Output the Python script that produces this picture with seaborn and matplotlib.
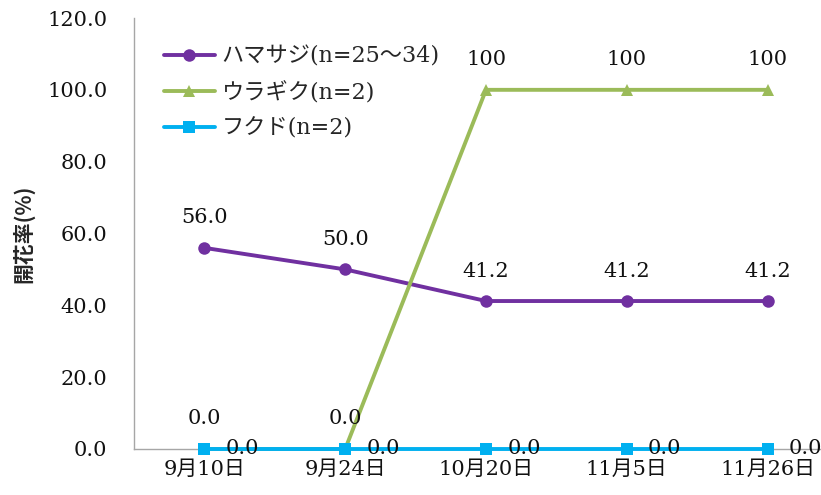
import matplotlib
matplotlib.use("Agg")
import matplotlib.pyplot as plt
import seaborn as sns
import pandas as pd

dates = ["9月10日", "9月24日", "10月20日", "11月5日", "11月26日"]
series_names = ["ハマサジ(n=25～34)", "ウラギク(n=2)", "フクド(n=2)"]
hamasaji = [56.0, 50.0, 41.2, 41.2, 41.2]
uragiku = [0.0, 0.0, 100.0, 100.0, 100.0]
fukudo = [0.0, 0.0, 0.0, 0.0, 0.0]
label_texts = {
    series_names[0]: ["56.0", "50.0", "41.2", "41.2", "41.2"],
    series_names[1]: ["0.0", "0.0", "100", "100", "100"],
    series_names[2]: ["0.0", "0.0", "0.0", "0.0", "0.0"],
}

colors = {series_names[0]: "#7030A0", series_names[1]: "#9BBB59", series_names[2]: "#00B0F0"}
markers = {series_names[0]: "o", series_names[1]: "^", series_names[2]: "s"}
msizes = {series_names[0]: 9, series_names[1]: 8.5, series_names[2]: 8.5}

rows = []
for name, vals in zip(series_names, [hamasaji, uragiku, fukudo]):
    for i, v in enumerate(vals):
        rows.append({"date": i, "value": v, "series": name})
df = pd.DataFrame(rows)

sns.set_theme(style="white")
fam = ["DejaVu Serif", "Noto Sans CJK JP", "DejaVu Sans"]
plt.rcParams["font.family"] = fam

fig = plt.figure(figsize=(8.21, 4.95), dpi=100)
ax = fig.add_axes([134 / 821, 46 / 495, 704 / 821, 431 / 495])

for z, name in enumerate(series_names):
    sub = df[df["series"] == name]
    sns.lineplot(data=sub, x="date", y="value", ax=ax, color=colors[name],
                 marker=markers[name], markersize=msizes[name], markeredgewidth=0,
                 linewidth=2.8, label=name, zorder=3 + z, sort=False)
for line in ax.get_lines():
    line.set_clip_on(False)

# data labels
lbl_kw = dict(fontsize=15, color="#111111", zorder=10, ha="center", va="center")
for name, vals in zip(series_names, [hamasaji, uragiku, fukudo]):
    for i, v in enumerate(vals):
        txt = label_texts[name][i]
        if name == series_names[2]:
            ax.annotate(txt, (i, v), xytext=(38, 0), textcoords="offset pixels",
                        annotation_clip=False, **lbl_kw)
        else:
            ax.annotate(txt, (i, v), xytext=(0, 30), textcoords="offset pixels", **lbl_kw)

ax.set_xlim(-0.5, 4.5)
ax.set_ylim(0, 120)
ax.set_xticks(range(len(dates)))
ax.set_xticklabels(dates, fontsize=15)
ax.set_yticks([0, 20, 40, 60, 80, 100, 120])
ax.set_yticklabels([f"{t:.1f}" for t in [0, 20, 40, 60, 80, 100, 120]], fontsize=15)
ax.tick_params(axis="y", length=0, pad=19, colors="#111111")
ax.tick_params(axis="x", length=0, pad=8, colors="#111111")
ax.set_xlabel("")
ax.set_ylabel("開花率(%)", fontsize=15, fontweight="bold",
              family=["Noto Sans CJK JP", "DejaVu Sans"])
ax.yaxis.set_label_coords(-100 / 704, 0.5)

for side in ["top", "right"]:
    ax.spines[side].set_visible(False)
for side in ["left", "bottom"]:
    ax.spines[side].set_color("#A6A6A6")
    ax.spines[side].set_linewidth(1.0)

leg = ax.legend(loc="upper left", bbox_to_anchor=(21 / 704, 1 - 19 / 431), frameon=False,
                fontsize=16, handlelength=2.3, handletextpad=0.3, labelspacing=0.62,
                borderaxespad=0)

fig.savefig("out.png", dpi=100)
